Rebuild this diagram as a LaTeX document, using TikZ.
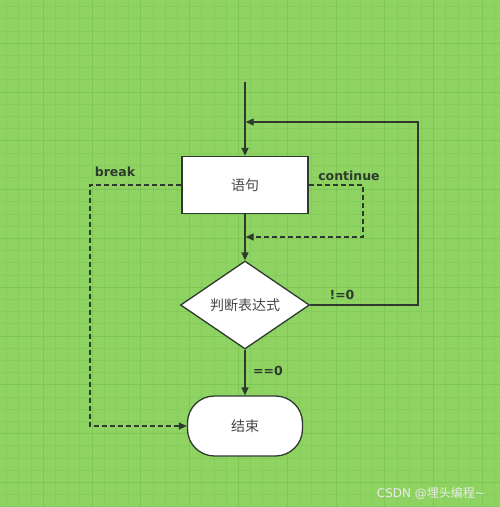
\documentclass[tikz,border=0pt]{standalone}
\usepackage{fontspec}
\setmainfont{DejaVu Sans}
\newfontfamily\cjk{Noto Sans CJK SC}
\usetikzlibrary{arrows.meta,shapes.geometric}
\definecolor{bggreen}{RGB}{143,212,98}
\definecolor{gridminor}{RGB}{134,204,92}
\definecolor{gridmajor}{RGB}{126,198,86}
\definecolor{ink}{RGB}{45,58,45}
\begin{document}
\begin{tikzpicture}[x=1pt,y=-1pt,
  flow/.style={draw=ink,line width=1.3pt,-{Triangle[length=8pt,width=7pt]}},
  dflow/.style={flow,dash pattern=on 5pt off 3pt},
  lbl/.style={font=\fontsize{12.5}{15}\selectfont\bfseries,text=ink},
  ctext/.style={font=\cjk\fontsize{14}{16}\selectfont,text=black!72}]
\fill[bggreen] (0,0) rectangle (500,507);
\useasboundingbox (0,0) rectangle (500,507);
\foreach \i in {0,...,41} {
  \pgfmathsetmacro\p{6.6+12.2*\i}
  \draw[gridminor,line width=0.8pt] (\p,0) -- (\p,507);
  \draw[gridminor,line width=0.8pt] (0,\p) -- (500,\p);
}
\foreach \i in {0,...,10} {
  \pgfmathsetmacro\p{43.2+48.8*\i-48.8}
  \draw[gridmajor,line width=1pt] (\p,0) -- (\p,507);
  \draw[gridmajor,line width=1pt] (0,\p) -- (500,\p);
}
% nodes
\node[draw=ink,line width=1.3pt,fill=white,minimum width=126pt,minimum height=57pt,inner sep=0pt,ctext] (stmt) at (245,185) {语句};
\node[diamond,draw=ink,line width=1.3pt,fill=white,minimum width=129pt,minimum height=88pt,aspect=1.47,inner sep=0pt,ctext] (cond) at (245,305) {判断表达式};
\node[draw=ink,line width=1.3pt,fill=white,minimum width=115pt,minimum height=60pt,rounded corners=27pt,inner sep=0pt,ctext] (end) at (245,426) {结束};
\coordinate (start) at (245,82);
\coordinate (j1) at (245,122);
\coordinate (j2) at (245,237);
\coordinate (bk) at (90,185);
\coordinate (ct) at (363,185);
\coordinate (ne) at (418,305);
% labels
\node[lbl] (lbreak) at (115,172) {break};
\node[lbl] (lcont) at (349,176) {continue};
\node[lbl] (lne) at (342,295) {!=0};
\node[lbl] (leq) at (268,371) {==0};
% connectors
\draw[flow] (start) -- (stmt.north);
\draw[flow] (stmt.south) -- (cond.north);
\draw[flow] (cond.south) -- (end.north);
\draw[flow] (cond.east) -- (ne) |- ([xshift=0.7pt]j1);
\draw[dflow] (stmt.east) -- (ct) |- ([xshift=0.7pt]j2);
\draw[dflow] (stmt.west) -- (bk) |- (end.west);
% watermark
\node[font=\fontsize{12}{14}\selectfont,text=white!85!gray] (wm) at (431,493) {CSDN @{\cjk 埋头编程}\textasciitilde};
\end{tikzpicture}
\end{document}
